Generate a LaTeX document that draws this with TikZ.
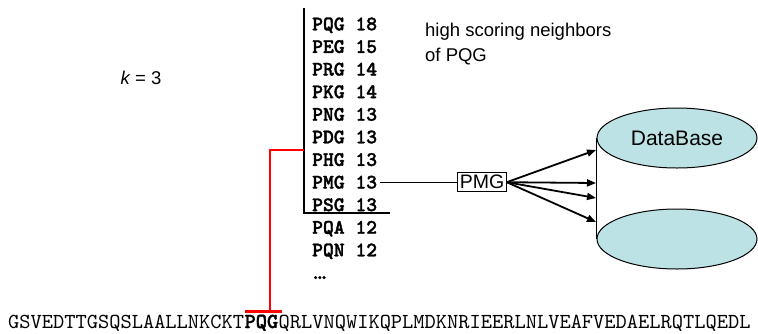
\documentclass[tikz,border=0pt]{standalone}
\usepackage{fontspec}
\setmainfont{Liberation Sans}
\setmonofont{lmmono10-regular.otf}[BoldFont=lmmonolt10-bold.otf, BoldFeatures={FakeBold=1.6}]
\usetikzlibrary{arrows.meta,positioning,shapes.geometric}
\definecolor{dbFill}{HTML}{BDE2E5}
\tikzset{
  hitrow/.style={anchor=base west, inner sep=0pt, font=\fontsize{20.6}{22}\selectfont\ttfamily\bfseries},
  seqtxt/.style={anchor=base west, inner sep=0pt, font=\fontsize{21.4}{22}\selectfont\ttfamily},
  lbl/.style={inner sep=0pt, font=\fontsize{18.5}{22}\selectfont},
  dbdisk/.style={ellipse, draw, line width=1pt, fill=dbFill, minimum width=160pt, minimum height=60pt, inner sep=0pt},
  barline/.style={line width=2.2pt},
  hitarr/.style={-{Triangle[length=9pt,width=7pt]}, line width=1.8pt},
}
\begin{document}
\begin{tikzpicture}[x=1pt,y=-1pt]
  \useasboundingbox (0,0) rectangle (758,333);
  % neighbour words
  \foreach \w/\s [count=\i from 0] in {PQG/18,PEG/15,PRG/14,PKG/14,PNG/13,PDG/13,PHG/13,PMG/13,PSG/13,PQA/12,PQN/12}
    \node[hitrow] (h\i) at (312,{30.3+22.6*\i}) {\w\ \s};
  \node[hitrow] (hdots) at (310,279) {.\kern-6.6pt.\kern-6.6pt.};
  \node[lbl, anchor=base west] (hs1) at (425,36) {high scoring neighbors};
  \node[lbl, anchor=base west] (hs2) at (425,61) {of PQG};
  \node[lbl] (kval) at (141,78) {\itshape k\upshape\ = 3};
  % threshold bracket
  \coordinate (btop) at (304,8);
  \coordinate (bbot) at (304,213);
  \coordinate (bend) at (390,213);
  \draw[barline] (btop) -- (bbot) -- (bend);
  % query sequence
  \node[seqtxt] (seqa) at (8,328) {GSVEDTTGSQSLAALLNKCKT};
  \node[seqtxt, font=\fontsize{21.4}{22}\selectfont\ttfamily\bfseries] (seqb) at (seqa.base east) {PQG};
  \node[seqtxt] (seqc) at (seqb.base east) {QRLVNQWIKQPLMDKNRIEERLNLVEAFVEDAELRQTLQEDL};
  \coordinate (rjoin) at (304,150);
  \coordinate (rknee) at (270,150);
  \coordinate (capmid) at ([yshift=3pt]seqb.north);
  \draw[red, line width=2.8pt] (rjoin) -- (rknee) -- (rknee |- capmid);
  \draw[red, line width=2.8pt] ([xshift=-16pt]capmid) -- ([xshift=21pt]capmid);
  % word box and database
  \node[draw, line width=1pt, inner xsep=2pt, inner ysep=3pt, text height=13.5pt, text depth=0pt,
        font=\fontsize{19.5}{22}\selectfont, right=80pt of h7] (pmg) {PMG};
  \draw[line width=0.8pt] ([xshift=3pt]h7.east) -- (pmg.west);
  \node[dbdisk] (dbbot) at (677,239) {};
  \node[dbdisk, font=\fontsize{21}{24}\selectfont] (dbtop) at (677,138) {DataBase};
  \draw[line width=1.5pt] (dbtop.west) -- (dbbot.west);
  \coordinate (t1) at (596,150);
  \coordinate (t2) at (596,183);
  \coordinate (t3) at (596,198);
  \coordinate (t4) at (596,222);
  \foreach \t in {t1,t2,t3,t4}
    \draw[hitarr] (pmg.east) -- (\t);
\end{tikzpicture}
\end{document}
